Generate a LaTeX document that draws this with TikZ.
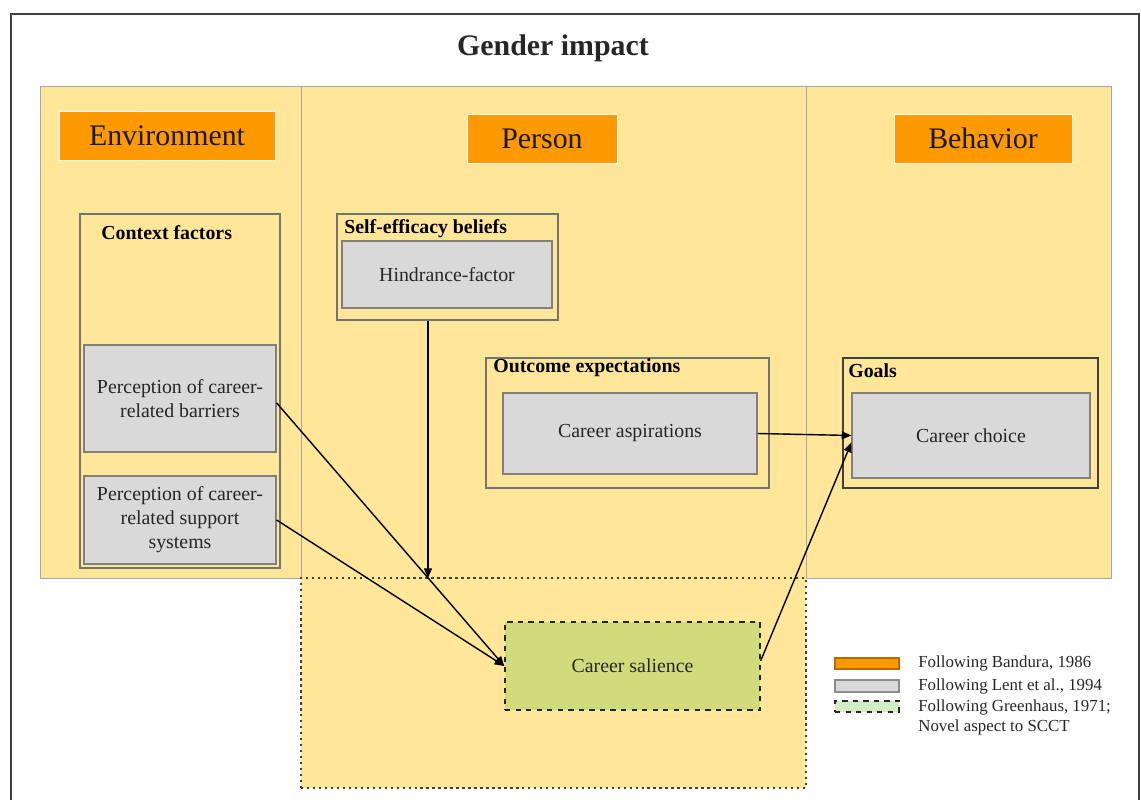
\documentclass[tikz,border=0pt]{standalone}
\usepackage{fontspec}
\setmainfont{Liberation Serif}
\usetikzlibrary{arrows.meta}
\definecolor{panelyellow}{HTML}{FFE699}
\definecolor{headorange}{HTML}{FF9900}
\definecolor{boxgrey}{HTML}{D9D9D9}
\definecolor{salgreen}{HTML}{D0DC7C}
\definecolor{legendgreen}{HTML}{D4EDC4}
\definecolor{textgrey}{HTML}{262626}
\begin{document}
\begin{tikzpicture}[
    x=0.02cm, y=-0.02cm,
    wh/.style 2 args={minimum width=#1*0.02cm, minimum height=#2*0.02cm},
    column/.style={draw=black!35, fill=panelyellow, line width=0.5pt, inner sep=0pt},
    header/.style={fill=headorange, draw=white, line width=0.4pt, inner sep=0pt,
      text=black!90, font=\fontsize{17}{20}\selectfont},
    group/.style={draw=black!55, line width=0.6pt, inner sep=0pt},
    grouplabel/.style={anchor=west, inner sep=0pt, font=\bfseries\fontsize{11.3}{13}\selectfont},
    greybox/.style={draw=black!50, fill=boxgrey, line width=0.7pt, inner sep=0pt,
      align=center, text=textgrey, font=\fontsize{11.3}{13.6}\selectfont},
    link/.style={-{Triangle[length=5.5pt,width=4.5pt]}, line width=0.8pt, black},
    swatch/.style={line width=0.6pt, inner sep=0pt},
    legendtext/.style={anchor=west, inner sep=0pt, align=left, text=textgrey,
      font=\fontsize{9.6}{11.6}\selectfont},
  ]
  \useasboundingbox (0,0) rectangle (1141,800);
  % outer frame
  \draw[black!75, line width=1.4pt] (11,805) -- (11,14) -- (1139,14) -- (1139,805);
  \draw[black!75, line width=0.8pt] (10.5,805) -- (10.5,14);
  \node[text=textgrey, font=\bfseries\fontsize{17}{20}\selectfont] (title) at (553,48.5) {Gender impact};

  % the three columns
  \node[column, wh={261}{492}] (env) at (170.5,332) {};
  \node[column, wh={505}{492}] (person) at (553.5,332) {};
  \node[column, wh={305}{492}] (behav) at (958.5,332) {};
  \node[fill=panelyellow, draw=black!75, dotted, line width=1.4pt, inner sep=0pt,
    wh={505}{210}] (extra) at (553.5,683) {};

  \node[header, wh={216}{49}] (envhead) at (167,135.5) {Environment};
  \node[header, wh={150}{49}] (personhead) at (542,138.5) {Person};
  \node[header, wh={178}{49}] (behavhead) at (983,138.5) {Behavior};

  % Environment
  \node[group, wh={200}{354}] (context) at (180,391) {};
  \node[grouplabel] (contextlabel) at (101,233) {Context factors};
  \node[greybox, wh={192}{107}] (barriers) at (180,398.5) {Perception of career-\\related barriers};
  \node[greybox, wh={192}{88}] (support) at (180,520) {Perception of career-\\related support\\systems};

  % Person
  \node[group, wh={221}{106}] (selfeff) at (447.5,267) {};
  \node[grouplabel] (selfefflabel) at (344,229) {Self-efficacy beliefs};
  \node[greybox, wh={210}{67}] (hindrance) at (447,274.5) {Hindrance-factor};
  \node[group, wh={283}{130}] (outcome) at (627.5,423) {};
  \node[grouplabel] (outcomelabel) at (493,368) {Outcome expectations};
  \node[greybox, wh={254}{81}] (aspirations) at (630,433.5) {Career aspirations};

  % Behavior
  \node[group, draw=black!75, wh={255}{130}] (goals) at (970.5,423) {};
  \node[grouplabel] (goalslabel) at (848,371) {Goals};
  \node[greybox, wh={238}{85}] (choice) at (971,435.5) {Career choice};

  % Career salience
  \node[fill=salgreen, draw=black!85, dashed, line width=0.8pt, inner sep=0pt,
    text=textgrey, font=\fontsize{11.3}{13.6}\selectfont,
    wh={255}{88}] (salience) at (632.5,666) {Career salience};

  \coordinate (hindend) at (428,578);
  \draw[link] (selfeff.south -| hindend) -- (hindend);
  \draw[link] ([yshift=-2.5pt]barriers.east) -- (salience.west);
  \draw[link] (support.east) -- (salience.west);
  \draw[link] (aspirations.east) -- (choice.west);
  \draw[link] ([yshift=3pt]salience.east) -- ([yshift=-4pt]choice.west);

  % legend
  \node[swatch, fill=headorange, draw=headorange!70!black, wh={64}{11}] (leg1) at (867,663.5) {};
  \node[swatch, fill=boxgrey, draw=black!45, wh={64}{12}] (leg2) at (867,686) {};
  \node[swatch, fill=legendgreen, draw=black!85, dashed, line width=0.9pt, wh={64}{11}] (leg3) at (867,706.5) {};
  \node[legendtext] (legtext1) at (918,663) {Following Bandura, 1986};
  \node[legendtext] (legtext2) at (918,686) {Following Lent et al., 1994};
  \node[legendtext, anchor=north west] (legtext3) at (918,699) {Following Greenhaus, 1971;\\Novel aspect to SCCT};
\end{tikzpicture}
\end{document}
